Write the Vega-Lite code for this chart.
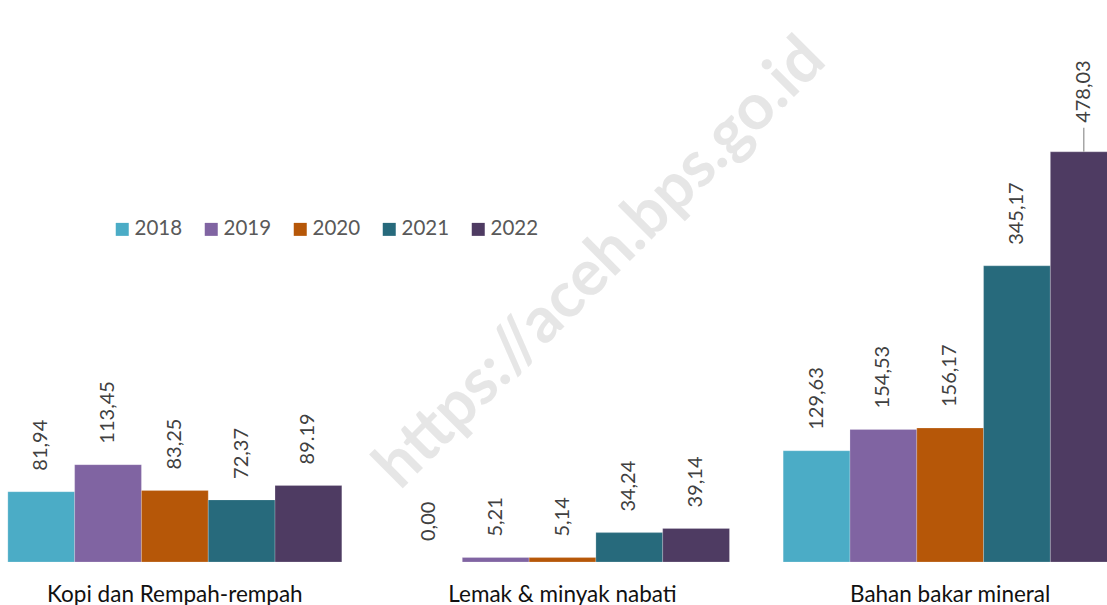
{
  "$schema": "https://vega.github.io/schema/vega-lite/v6.json",
  "width": 1163,
  "height": 562,
  "autosize": {"type": "none"},
  "padding": {"left": -19, "top": 0, "right": -37, "bottom": 43},
  "background": "white",
  "config": {"view": {"stroke": null}, "font": "Lato"},
  "data": {
    "values": [
      {"kategori": "Kopi dan Rempah-rempah", "tahun": "2018", "nilai": 81.94, "label": "81,94"},
      {"kategori": "Kopi dan Rempah-rempah", "tahun": "2019", "nilai": 113.45, "label": "113,45"},
      {"kategori": "Kopi dan Rempah-rempah", "tahun": "2020", "nilai": 83.25, "label": "83,25"},
      {"kategori": "Kopi dan Rempah-rempah", "tahun": "2021", "nilai": 72.37, "label": "72,37"},
      {"kategori": "Kopi dan Rempah-rempah", "tahun": "2022", "nilai": 89.19, "label": "89.19"},
      {"kategori": "Lemak & minyak nabati", "tahun": "2018", "nilai": 0.0, "label": "0,00"},
      {"kategori": "Lemak & minyak nabati", "tahun": "2019", "nilai": 5.21, "label": "5,21"},
      {"kategori": "Lemak & minyak nabati", "tahun": "2020", "nilai": 5.14, "label": "5,14"},
      {"kategori": "Lemak & minyak nabati", "tahun": "2021", "nilai": 34.24, "label": "34,24"},
      {"kategori": "Lemak & minyak nabati", "tahun": "2022", "nilai": 39.14, "label": "39,14"},
      {"kategori": "Bahan bakar mineral", "tahun": "2018", "nilai": 129.63, "label": "129,63"},
      {"kategori": "Bahan bakar mineral", "tahun": "2019", "nilai": 154.53, "label": "154,53"},
      {"kategori": "Bahan bakar mineral", "tahun": "2020", "nilai": 156.17, "label": "156,17"},
      {"kategori": "Bahan bakar mineral", "tahun": "2021", "nilai": 345.17, "label": "345,17"},
      {"kategori": "Bahan bakar mineral", "tahun": "2022", "nilai": 478.03, "label": "478,03"}
    ]
  },
  "layer": [
    {
      "mark": {"type": "bar", "stroke": "white", "strokeWidth": 0.6, "strokeOpacity": 0.35},
      "encoding": {
        "x": {
          "field": "kategori", "type": "nominal", "title": null,
          "scale": {"domain": ["Kopi dan Rempah-rempah", "Lemak & minyak nabati", "Bahan bakar mineral"], "paddingInner": 0.1385, "paddingOuter": 0.06925},
          "axis": {"domain": false, "ticks": false, "grid": false, "labelAngle": 0, "labelFontSize": 22.5, "labelColor": "#111111", "labelPadding": 21, "labelFont": "Lato", "labelLimit": 500}
        },
        "xOffset": {"field": "tahun", "type": "nominal", "scale": {"paddingInner": 0, "paddingOuter": 0}},
        "y": {"field": "nilai", "type": "quantitative", "scale": {"domain": [0, 655], "nice": false}, "axis": null},
        "color": {
          "field": "tahun", "type": "nominal",
          "scale": {"domain": ["2018", "2019", "2020", "2021", "2022"], "range": ["#4BACC6", "#8064A2", "#B65708", "#276A7C", "#4E3B62"]},
          "legend": {
            "title": null, "orient": "none", "legendX": 131, "legendY": 219, "direction": "horizontal", "columns": 5,
            "symbolType": "square", "symbolSize": 169, "symbolStrokeWidth": 0, "symbolOpacity": 1,
            "labelFontSize": 20.5, "labelColor": "#595959", "labelOffset": 2, "columnPadding": 18, "padding": 0, "labelFont": "Lato"
          }
        }
      }
    },
    {
      "transform": [{"filter": "datum.nilai < 400"}],
      "mark": {"type": "text", "angle": 270, "align": "left", "baseline": "middle", "dx": 21, "fontSize": 20, "color": "#404040"},
      "encoding": {
        "x": {"field": "kategori", "type": "nominal"},
        "xOffset": {"field": "tahun", "type": "nominal"},
        "y": {"field": "nilai", "type": "quantitative"},
        "text": {"field": "label", "type": "nominal"}
      }
    },
    {
      "transform": [{"filter": "datum.nilai >= 400"}],
      "mark": {"type": "text", "angle": 270, "align": "left", "baseline": "middle", "dx": 29, "fontSize": 20, "color": "#404040"},
      "encoding": {
        "x": {"field": "kategori", "type": "nominal"},
        "xOffset": {"field": "tahun", "type": "nominal"},
        "y": {"field": "nilai", "type": "quantitative"},
        "text": {"field": "label", "type": "nominal"}
      }
    },
    {
      "transform": [{"filter": "datum.nilai >= 400"}],
      "mark": {"type": "rule", "color": "#a6a6a6", "strokeWidth": 1.5},
      "encoding": {
        "x": {"field": "kategori", "type": "nominal"},
        "xOffset": {"field": "tahun", "type": "nominal"},
        "y": {"field": "nilai", "type": "quantitative"},
        "y2": {"datum": 506}
      }
    },
    {
      "transform": [{"filter": "datum.kategori == 'Lemak & minyak nabati' && datum.tahun == '2020'"}],
      "mark": {"type": "text", "angle": 315, "align": "center", "baseline": "middle", "fontSize": 64, "fontWeight": "bold", "color": "#e4e4e4", "opacity": 0.9, "dx": 235, "dy": -181},
      "encoding": {
        "x": {"field": "kategori", "type": "nominal"},
        "xOffset": {"field": "tahun", "type": "nominal"},
        "y": {"field": "nilai", "type": "quantitative"},
        "text": {"value": "https://aceh.bps.go.id"}
      }
    }
  ]
}
